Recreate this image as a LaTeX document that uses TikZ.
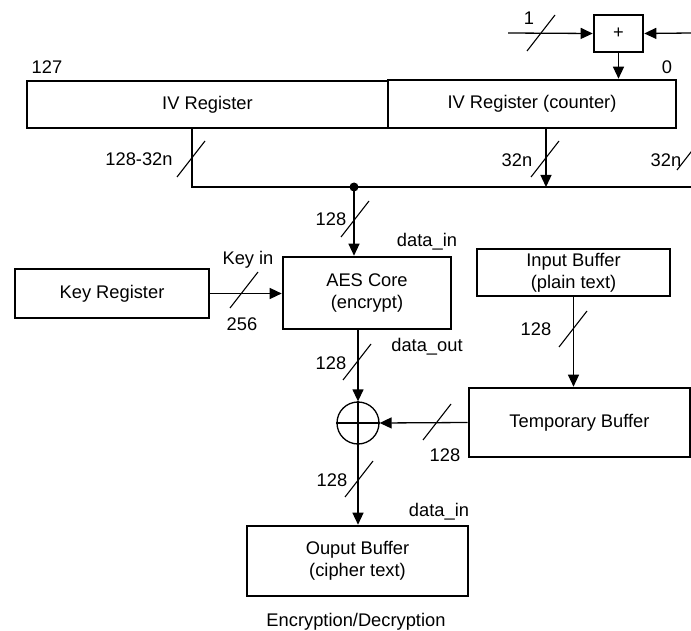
\documentclass[tikz,border=0pt]{standalone}
\usepackage{fontspec}
\setmainfont{Liberation Sans}
\usetikzlibrary{arrows.meta}
\begin{document}
\begin{tikzpicture}[x=1pt,y=-1pt,
  font=\fontsize{18.3}{22}\selectfont,
  conn/.style={line width=1.3pt},
  arr/.style={conn,-{Triangle[length=12pt,width=11pt]}},
  box/.style={draw,line width=2.6pt,inner sep=0pt,align=center},
  lbl/.style={inner sep=0pt,text height=13.2pt,text depth=0pt},
  busmark/.pic={\draw[line width=1.1pt] (-14,18) -- (14,-18);}]
\useasboundingbox (0,0) rectangle (691,631);
\clip (0,0) rectangle (691,631);
% boxes
\node[box,minimum width=361pt,minimum height=47pt] (ivreg) at (207.5,104.5) {IV Register};
\node[box,minimum width=288pt,minimum height=48pt] (ivctr) at (532,104) {IV Register (counter)};
\node[box,minimum width=49pt,minimum height=37pt] (plus) at (618.5,33.5) {+};
\node[box,minimum width=194pt,minimum height=49pt] (keyreg) at (112,293.5) {Key Register};
\node[box,minimum width=168pt,minimum height=72pt] (aes) at (367,293) {AES Core\\(encrypt)};
\node[box,minimum width=193pt,minimum height=47pt] (inbuf) at (573.5,272.5) {Input Buffer\\(plain text)};
\node[box,minimum width=221pt,minimum height=69pt] (temp) at (579.5,422.5) {Temporary Buffer};
\node[box,minimum width=221pt,minimum height=70pt] (outbuf) at (357.5,561) {Ouput Buffer\\(cipher text)};
\node[draw,circle,line width=1.3pt,minimum size=42pt,inner sep=0pt] (xor) at (358,423) {};
\draw[line width=1.1pt] (xor.north) -- (xor.south) (xor.west) -- (xor.east);
% coordinates
\coordinate (onein) at (508,33);
\coordinate (rightin) at (691,33);
\coordinate (ivtap) at (192,128);
\coordinate (ivbend) at (192,187);
\coordinate (busend) at (691,187);
\coordinate (ctrtap) at (546,128);
\coordinate (ctrbus) at (546,187);
\coordinate (dot) at (354,187);
\coordinate (aesout) at (358,329);
% connectors
\draw[arr] (onein) -- (plus.west);
\draw[arr] (rightin) -- (plus.east);
\draw[arr] (plus.south) -- (plus.south |- ivctr.north);
\draw[conn] (ivtap) -- (ivbend) -- (busend);
\draw[arr] (ctrtap) -- (ctrbus);
\fill (dot) circle (4.5pt);
\draw[arr] (dot) -- (dot |- aes.north);
\draw[arr] (keyreg.east) -- (keyreg.east -| aes.west);
\draw[arr] (aesout) -- (xor.north);
\draw[arr] (inbuf.south) -- (inbuf.south |- temp.north);
\draw[arr] (temp.west) -- (xor.east);
\draw[arr] (xor.south) -- (xor.south |- outbuf.north);
% bus marks
\pic at (541,33) {busmark};
\pic at (191,159) {busmark};
\pic at (545,159) {busmark};
\pic at (691,152) {busmark};
\pic at (355,219) {busmark};
\pic at (244,290) {busmark};
\pic at (357,362) {busmark};
\pic at (573,329) {busmark};
\pic at (437,422) {busmark};
\pic at (359,479) {busmark};
% labels
\node[lbl] (l1) at (529,18) {1};
\node[lbl] (l0) at (667,67) {0};
\node[lbl] (l127) at (47,67) {127};
\node[lbl] (lsub) at (139,159) {128-32n};
\node[lbl] (l32a) at (517,160) {32n};
\node[lbl] (l32b) at (666,160) {32n};
\node[lbl] (l128a) at (331,219) {128};
\node[lbl] (ldin) at (427,240) {data\_in};
\node[lbl] (lkey) at (248,258) {Key in};
\node[lbl] (l256) at (242,324) {256};
\node[lbl] (l128b) at (536,329) {128};
\node[lbl] (ldout) at (427,345) {data\_out};
\node[lbl] (l128c) at (331,363) {128};
\node[lbl] (l128d) at (445,455) {128};
\node[lbl] (l128e) at (332,480) {128};
\node[lbl] (ldin2) at (439,510) {data\_in};
\node[lbl] (lcap) at (356,620) {Encryption/Decryption};
\end{tikzpicture}
\end{document}
